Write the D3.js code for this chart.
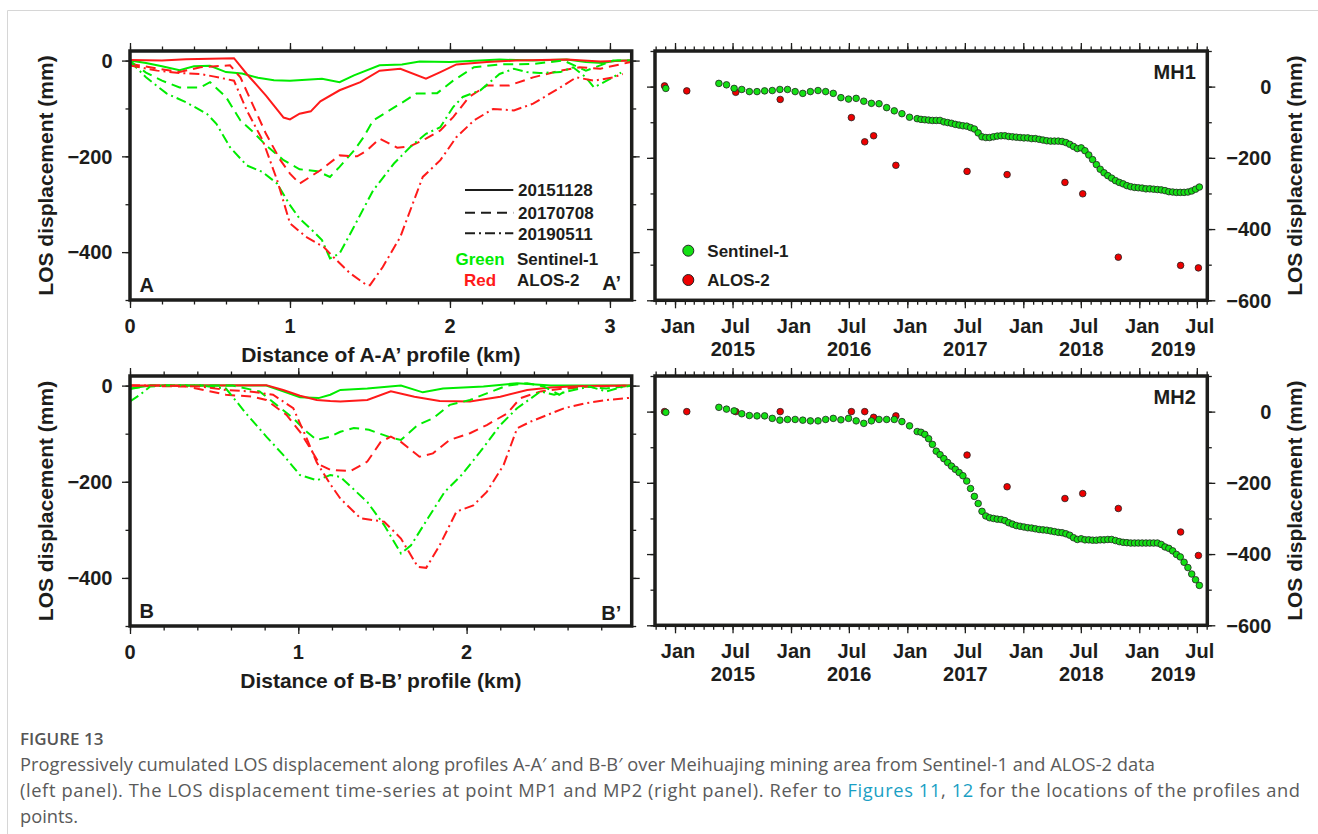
<!DOCTYPE html>
<html>
<head>
<meta charset="utf-8">
<script src="https://cdn.jsdelivr.net/npm/d3@7"></script>
<style>
  body { margin: 0; background: #fff; }
  svg { display: block; }
</style>
</head>
<body>
<svg id="fig" width="1318" height="834"></svg>
<script>
// ---------- profile A-A' : [distance km, LOS mm]
var aS1_20151128 = [[0,0],[0.1,-5],[0.2,-12],[0.31,-20],[0.4,-12],[0.5,-11],[0.6,-24],[0.7,-27],[0.8,-36],[0.9,-41],[1.0,-42],[1.1,-40],[1.2,-38],[1.31,-45],[1.4,-31],[1.56,-10],[1.7,-8],[1.81,-2],[2.0,-3],[2.31,2],[2.52,0],[2.73,2],[2.85,-3],[2.95,-5],[3.05,0],[3.13,0]];
var aAL_20151128 = [[0,1],[0.2,0],[0.35,3],[0.5,4],[0.65,5],[0.73,-28],[0.85,-73],[0.96,-119],[1.0,-123],[1.06,-111],[1.13,-106],[1.19,-85],[1.31,-62],[1.44,-45],[1.56,-21],[1.69,-17],[1.85,-38],[1.94,-24],[2.04,-8],[2.23,-3],[2.41,0],[2.73,2],[2.94,-2],[3.13,0]];
var aS1_20170708 = [[0,-1],[0.1,-25],[0.2,-42],[0.31,-56],[0.44,-56],[0.5,-45],[0.6,-76],[0.69,-125],[0.77,-149],[0.85,-177],[0.96,-208],[1.06,-227],[1.17,-231],[1.25,-243],[1.31,-222],[1.4,-188],[1.46,-160],[1.52,-125],[1.69,-90],[1.79,-69],[1.92,-68],[2.02,-42],[2.15,-14],[2.31,-8],[2.52,-7],[2.71,0],[2.85,-21],[2.94,-10],[3.02,0],[3.13,0]];
var aAL_20170708 = [[0,-7],[0.125,-14],[0.31,-24],[0.44,-14],[0.625,-10],[0.69,-35],[0.77,-94],[0.85,-153],[0.94,-208],[1.0,-236],[1.06,-257],[1.125,-243],[1.19,-229],[1.31,-198],[1.42,-200],[1.48,-188],[1.56,-163],[1.67,-182],[1.75,-179],[1.85,-163],[1.94,-146],[2.02,-118],[2.12,-76],[2.23,-52],[2.37,-52],[2.52,-35],[2.69,-21],[2.81,-14],[2.94,-17],[3.13,-3]];
var aS1_20190511 = [[0,-1],[0.1,-35],[0.23,-69],[0.35,-87],[0.48,-111],[0.54,-132],[0.625,-181],[0.73,-219],[0.83,-233],[0.92,-257],[1.0,-302],[1.06,-330],[1.15,-358],[1.2,-375],[1.25,-413],[1.31,-403],[1.4,-347],[1.52,-271],[1.65,-215],[1.75,-181],[1.85,-153],[1.94,-139],[2.02,-97],[2.08,-76],[2.19,-62],[2.31,-28],[2.4,-17],[2.48,-24],[2.56,-26],[2.69,-24],[2.77,-14],[2.85,-35],[2.9,-56],[2.98,-42],[3.07,-25]];
var aAL_20190511 = [[0,-10],[0.17,-21],[0.31,-26],[0.44,-28],[0.52,-33],[0.65,-42],[0.73,-104],[0.83,-167],[0.92,-250],[1.0,-340],[1.1,-368],[1.21,-389],[1.27,-410],[1.375,-444],[1.48,-469],[1.5,-469],[1.58,-431],[1.69,-368],[1.83,-243],[1.94,-208],[2.04,-160],[2.15,-125],[2.27,-101],[2.4,-104],[2.52,-90],[2.69,-56],[2.79,-35],[2.9,-42],[3.02,-35],[3.08,-28]];

// ---------- profile B-B'
var bS1_20151128 = [[0,-6],[0.12,0],[0.4,0],[0.81,0],[0.91,-12],[1.01,-24],[1.12,-26],[1.19,-19],[1.25,-9],[1.41,-6],[1.61,0],[1.74,-14],[1.86,-6],[2.1,-2],[2.3,5],[2.5,0],[2.69,0],[2.98,0]];
var bAL_20151128 = [[0,0],[0.4,0],[0.81,1],[0.91,-9],[1.01,-21],[1.11,-30],[1.19,-32],[1.25,-33],[1.41,-30],[1.55,-12],[1.69,-23],[1.84,-32],[2.02,-33],[2.2,-23],[2.36,-9],[2.5,-4],[2.69,-1],[2.98,0]];
var bS1_20170708 = [[0,-7],[0.12,0],[0.61,0],[0.77,-12],[0.87,-40],[0.97,-68],[1.05,-96],[1.11,-113],[1.19,-106],[1.25,-96],[1.33,-88],[1.42,-92],[1.55,-108],[1.61,-113],[1.71,-82],[1.8,-68],[1.9,-40],[2.02,-30],[2.12,-16],[2.24,0],[2.36,5],[2.46,-2],[2.55,-19],[2.61,-6],[2.71,-2],[2.83,-6],[2.98,0]];
var bAL_20170708 = [[0,0],[0.34,-2],[0.57,-19],[0.73,-23],[0.81,-30],[0.93,-61],[1.01,-96],[1.07,-130],[1.13,-165],[1.19,-175],[1.31,-178],[1.41,-158],[1.49,-117],[1.55,-106],[1.61,-117],[1.72,-148],[1.8,-141],[1.9,-113],[2.02,-99],[2.12,-82],[2.24,-58],[2.32,-26],[2.44,-12],[2.58,-6],[2.71,-2],[2.98,0]];
var bS1_20190511 = [[0,-33],[0.06,-19],[0.12,-2],[0.22,0],[0.42,0],[0.57,-6],[0.69,-58],[0.81,-106],[0.91,-144],[1.01,-186],[1.11,-197],[1.19,-186],[1.25,-190],[1.41,-242],[1.51,-290],[1.61,-349],[1.67,-332],[1.77,-276],[1.87,-221],[1.97,-186],[2.08,-138],[2.2,-82],[2.3,-47],[2.44,-12],[2.52,-19],[2.6,-12],[2.73,-2],[2.83,-12],[2.91,-4],[2.98,0]];
var bAL_20190511 = [[0,0],[0.22,0],[0.42,-2],[0.57,-9],[0.71,-12],[0.85,-19],[0.97,-47],[1.05,-110],[1.11,-160],[1.19,-205],[1.25,-235],[1.37,-276],[1.51,-283],[1.61,-318],[1.71,-377],[1.76,-379],[1.84,-332],[1.94,-262],[2.04,-249],[2.12,-221],[2.22,-165],[2.3,-89],[2.38,-75],[2.48,-61],[2.58,-47],[2.7,-37],[2.83,-30],[2.98,-25]];

// ---------- time series at MH1 / MH2
var s1Dates = ["2014-12-03",
  "2015-05-19","2015-06-12","2015-07-06","2015-07-30","2015-08-23","2015-09-16","2015-10-10","2015-11-03","2015-11-27","2015-12-21",
  "2016-01-14","2016-02-07","2016-03-02","2016-03-26","2016-04-19","2016-05-13","2016-06-06","2016-06-30","2016-07-24","2016-08-17","2016-09-10","2016-10-04","2016-10-28","2016-11-21","2016-12-15",
  "2017-01-08","2017-02-01",
  "2017-02-13","2017-02-25","2017-03-09","2017-03-21","2017-04-02","2017-04-14","2017-04-26","2017-05-08","2017-05-20","2017-06-01","2017-06-13","2017-06-25","2017-07-07","2017-07-19","2017-07-31","2017-08-12","2017-08-24","2017-09-05","2017-09-17","2017-09-29","2017-10-11","2017-10-23","2017-11-04","2017-11-16","2017-11-28","2017-12-10","2017-12-22",
  "2018-01-03","2018-01-15","2018-01-27","2018-02-08","2018-02-20","2018-03-04","2018-03-16","2018-03-28","2018-04-09","2018-04-21","2018-05-03","2018-05-15","2018-05-27","2018-06-08","2018-06-20","2018-07-02","2018-07-14","2018-07-26","2018-08-07","2018-08-19","2018-08-31","2018-09-12","2018-09-24","2018-10-06","2018-10-18","2018-10-30","2018-11-11","2018-11-23","2018-12-05","2018-12-17","2018-12-29",
  "2019-01-10","2019-01-22","2019-02-03","2019-02-15","2019-02-27","2019-03-11","2019-03-23","2019-04-04","2019-04-16","2019-04-28","2019-05-10","2019-05-22","2019-06-03","2019-06-15","2019-06-27","2019-07-09"];
var mh1S1 = [-5,
  9,5,-5,-8,-14,-14,-12,-11,-8,-8,
  -14,-19,-14,-11,-14,-19,-31,-35,-33,-41,-47,-48,-59,-68,-76,
  -86,-90,
  -92,-93,-94,-95,-95,-95,-99,-101,-103,-106,-108,-110,-111,-115,-119,-130,-141,-143,-143,-141,-139,-138,-138,-140,-141,-142,-143,
  -144,-144,-146,-146,-148,-150,-152,-153,-153,-153,-154,-157,-162,-168,-174,-172,-180,-192,-205,-219,-232,-242,-250,-257,-264,-269,-273,-278,-281,-283,-284,
  -285,-287,-287,-288,-289,-290,-292,-295,-296,-297,-297,-297,-296,-293,-288,-282];
var mh2S1 = [-2,
  12,7,2,-6,-11,-12,-12,-19,-24,-22,
  -22,-24,-26,-26,-22,-19,-23,-19,-26,-33,-26,-22,-22,-22,-28,
  -40,-56,
  -58,-64,-76,-92,-111,-121,-132,-143,-153,-162,-171,-180,-195,-216,-238,-258,-280,-293,-298,-300,-302,-303,-306,-312,-316,-320,-322,
  -324,-326,-327,-329,-331,-332,-333,-335,-337,-339,-340,-343,-347,-354,-359,-357,-360,-360,-361,-361,-360,-360,-359,-359,-362,-365,-367,-368,-369,-369,-369,
  -369,-369,-369,-369,-369,-373,-380,-384,-391,-401,-408,-423,-438,-456,-472,-488];
var alosDates = ["2014-11-29","2015-02-07","2015-07-11","2015-11-28","2016-07-09","2016-08-20","2016-09-17","2016-11-26",
  "2017-07-08","2017-11-11","2018-05-12","2018-07-07","2018-10-27","2019-05-11","2019-07-06"];
var mh1Alos = [2,-12,-16,-36,-87,-155,-138,-221,-238,-247,-269,-301,-479,-502,-509];
var mh2Alos = [0,0,0,0,0,0,-16,-12,-122,-211,-244,-230,-272,-338,-404];

var legendDates = ["20151128","20170708","20190511"];

var FONT = "'Liberation Sans', Arial, Helvetica, sans-serif";
var INK = "#1d1d1b";
var GREEN = "#00ec00", RED = "#ff1a1a";
var dashOf = {"20151128": null, "20170708": "10,6", "20190511": "10,4,2,4"};
var parseDate = d3.utcParse("%Y-%m-%d");
var minus = function(v) { return v < 0 ? "\u2212" + (-v) : String(v); };

var svg = d3.select("#fig").style("font-family", FONT);

// page border
svg.append("path").attr("d", "M7.5,834V10.5H1318").attr("fill", "none").attr("stroke", "#d6d6d6");

function ticks(g, scale, orient, at, values, size) {
  var ax = (orient == "bottom" ? d3.axisBottom : orient == "top" ? d3.axisTop : orient == "left" ? d3.axisLeft : d3.axisRight)(scale)
    .tickValues(values).tickSize(size).tickFormat("");
  var tr = (orient == "bottom" || orient == "top") ? "translate(0," + at + ")" : "translate(" + at + ",0)";
  var a = g.append("g").attr("transform", tr).call(ax);
  a.select(".domain").remove();
  a.selectAll("line").attr("stroke", INK).attr("stroke-width", 1.3);
}

function framed(g, x, y, box, xMaj, xMin, yMaj, yMin, id) {
  ["bottom","top"].forEach(function(o) {
    var at = o == "bottom" ? box.b : box.t;
    ticks(g, x, o, at, xMin, 4.5);
    ticks(g, x, o, at, xMaj, 8);
  });
  ["left","right"].forEach(function(o) {
    var at = o == "left" ? box.l : box.r;
    ticks(g, y, o, at, yMin, 4.5);
    ticks(g, y, o, at, yMaj, 8);
  });
  svg.append("clipPath").attr("id", id).append("rect")
    .attr("x", box.l).attr("y", box.t).attr("width", box.r - box.l).attr("height", box.b - box.t);
  var plot = g.append("g").attr("clip-path", "url(#" + id + ")");
  g.append("rect").attr("x", box.l).attr("y", box.t).attr("width", box.r - box.l).attr("height", box.b - box.t)
    .attr("fill", "none").attr("stroke", INK).attr("stroke-width", 3.5);
  return plot;
}

// ---------- profile panels
function profilePanel(box, xMax, series, name, ends) {
  var g = svg.append("g");
  var x = d3.scaleLinear().domain([0, xMax]).range([box.l, box.r]);
  var y = d3.scaleLinear().domain([-500, 20]).range([box.b, box.t]);
  var plot = framed(g, x, y, box, d3.range(0, xMax, 1), d3.range(0, xMax, 0.2),
    [0, -200, -400], [0, -100, -200, -300, -400, -500], "clip" + name);
  var line = d3.line().x(function(d) { return x(d[0]); }).y(function(d) { return y(d[1]); });
  series.forEach(function(s) {
    plot.append("path").datum(s.data).attr("d", line)
      .attr("fill", "none").attr("stroke", s.sat == "s1" ? GREEN : RED)
      .attr("stroke-width", 2).attr("stroke-dasharray", dashOf[s.date]);
  });
  g.selectAll(".xl").data(d3.range(0, xMax, 1)).enter().append("text")
    .attr("x", function(d) { return x(d); }).attr("y", box.b + 33)
    .attr("text-anchor", "middle").attr("font-size", 20).attr("font-weight", "bold").attr("fill", INK)
    .text(function(d) { return d; });
  g.selectAll(".yl").data([0, -200, -400]).enter().append("text")
    .attr("x", box.l - 17.5).attr("y", function(d) { return y(d) + 7.2; })
    .attr("text-anchor", "end").attr("font-size", 20).attr("font-weight", "bold").attr("fill", INK)
    .text(minus);
  g.append("text").attr("x", (box.l + box.r) / 2).attr("y", box.b + 62)
    .attr("text-anchor", "middle").attr("font-size", 21).attr("font-weight", "bold").attr("fill", INK)
    .text("Distance of " + name + "-" + name + "\u2019 profile (km)");
  g.append("text").attr("transform", "translate(53," + (box.t + box.b) / 2 + ") rotate(-90)")
    .attr("text-anchor", "middle").attr("font-size", 21).attr("font-weight", "bold").attr("fill", INK)
    .text("LOS displacement (mm)");
  g.append("text").attr("x", box.l + 9.5).attr("y", box.b - 8)
    .attr("font-size", 20).attr("font-weight", "bold").attr("fill", INK).text(name);
  g.append("text").attr("x", box.r - 10.5).attr("y", box.b - ends)
    .attr("text-anchor", "end").attr("font-size", 20).attr("font-weight", "bold").attr("fill", INK).text(name + "\u2019");
  return g;
}

var gA = profilePanel({l: 130, r: 631.7, t: 51, b: 300}, 3.136, [
  {data: aS1_20151128, sat: "s1", date: "20151128"}, {data: aAL_20151128, sat: "al", date: "20151128"},
  {data: aS1_20170708, sat: "s1", date: "20170708"}, {data: aAL_20170708, sat: "al", date: "20170708"},
  {data: aS1_20190511, sat: "s1", date: "20190511"}, {data: aAL_20190511, sat: "al", date: "20190511"}], "A", 10);
profilePanel({l: 130, r: 631.7, t: 376, b: 626}, 2.981, [
  {data: bS1_20151128, sat: "s1", date: "20151128"}, {data: bAL_20151128, sat: "al", date: "20151128"},
  {data: bS1_20170708, sat: "s1", date: "20170708"}, {data: bAL_20170708, sat: "al", date: "20170708"},
  {data: bS1_20190511, sat: "s1", date: "20190511"}, {data: bAL_20190511, sat: "al", date: "20190511"}], "B", 6);

// legend of the profile plots
var lgY = [190, 212.7, 233.3];
legendDates.forEach(function(d, i) {
  gA.append("line").attr("x1", 465).attr("x2", 513.3).attr("y1", lgY[i]).attr("y2", lgY[i])
    .attr("stroke", INK).attr("stroke-width", 2).attr("stroke-dasharray", dashOf[d]);
  gA.append("text").attr("x", 518).attr("y", lgY[i] + 6.2)
    .attr("font-size", 17).attr("font-weight", "bold").attr("fill", INK).text(d);
});
[["Green", GREEN, "Sentinel-1", 265], ["Red", RED, "ALOS-2", 286]].forEach(function(r) {
  gA.append("text").attr("x", 480).attr("y", r[3]).attr("text-anchor", "middle")
    .attr("font-size", 17).attr("font-weight", "bold").attr("fill", r[1]).text(r[0]);
  gA.append("text").attr("x", 517).attr("y", r[3])
    .attr("font-size", 17).attr("font-weight", "bold").attr("fill", INK).text(r[2]);
});

// ---------- time-series panels
function timePanel(box, s1Vals, alosVals, name) {
  var g = svg.append("g");
  var x = d3.scaleUtc().domain([parseDate("2014-10-30"), parseDate("2019-08-03")]).range([box.l, box.r]);
  var y = d3.scaleLinear().domain([-600, 100]).range([box.b, box.t]);
  var months = d3.utcMonth.range(x.domain()[0], x.domain()[1]);
  var halfYears = months.filter(function(m) { return m.getUTCMonth() % 6 == 0; });
  var plot = framed(g, x, y, box, halfYears, months, [0, -200, -400, -600],
    [100, 0, -100, -200, -300, -400, -500, -600], "clip" + name);
  plot.selectAll(".al").data(alosDates).enter().append("circle")
    .attr("cx", function(d) { return x(parseDate(d)); })
    .attr("cy", function(d, i) { return y(alosVals[i]); })
    .attr("r", 3.3).attr("fill", "#ee0000").attr("stroke", "#222").attr("stroke-width", 0.8);
  plot.selectAll(".s1").data(s1Dates).enter().append("circle")
    .attr("cx", function(d) { return x(parseDate(d)); })
    .attr("cy", function(d, i) { return y(s1Vals[i]); })
    .attr("r", 3.3).attr("fill", "#14e014").attr("stroke", "#222").attr("stroke-width", 0.8);
  g.selectAll(".ml").data(halfYears).enter().append("text")
    .attr("x", function(d) { return x(d) + 3; }).attr("y", box.b + 32.7)
    .attr("text-anchor", "middle").attr("font-size", 20).attr("font-weight", "bold").attr("fill", INK)
    .text(d3.utcFormat("%b"));
  var years = d3.utcYear.range(parseDate("2015-01-01"), x.domain()[1]);
  g.selectAll(".yr").data(years).enter().append("text")
    .attr("x", function(d) { return (x(d) + Math.min(box.r, x(d3.utcYear.offset(d, 1)))) / 2; })
    .attr("y", box.b + 56)
    .attr("text-anchor", "middle").attr("font-size", 20).attr("font-weight", "bold").attr("fill", INK)
    .text(d3.utcFormat("%Y"));
  g.selectAll(".yl").data([0, -200, -400, -600]).enter().append("text")
    .attr("x", box.r + 64).attr("y", function(d) { return y(d) + 7.2; })
    .attr("text-anchor", "end").attr("font-size", 20).attr("font-weight", "bold").attr("fill", INK)
    .text(minus);
  g.append("text").attr("transform", "translate(1301.5," + (box.t + box.b) / 2 + ") rotate(-90)")
    .attr("text-anchor", "middle").attr("font-size", 21).attr("font-weight", "bold").attr("fill", INK)
    .text("LOS displacement (mm)");
  g.append("text").attr("x", box.r - 11.5).attr("y", box.t + 27.5).attr("text-anchor", "end")
    .attr("font-size", 20).attr("font-weight", "bold").attr("fill", INK).text(name);
  return g;
}

var gM1 = timePanel({l: 655, r: 1207.3, t: 51, b: 300.3}, mh1S1, mh1Alos, "MH1");
timePanel({l: 655, r: 1207.3, t: 376, b: 625.3}, mh2S1, mh2Alos, "MH2");

[["Sentinel-1", "#14e014", 250.7], ["ALOS-2", "#ee0000", 280]].forEach(function(r) {
  gM1.append("circle").attr("cx", 688.3).attr("cy", r[2]).attr("r", 5.5)
    .attr("fill", r[1]).attr("stroke", "#222").attr("stroke-width", 1);
  gM1.append("text").attr("x", 707.3).attr("y", r[2] + 6.2)
    .attr("font-size", 17).attr("font-weight", "bold").attr("fill", INK).text(r[0]);
});

// ---------- caption
var cap = svg.append("g").style("font-family", "'Open Sans', 'Noto Sans', sans-serif").attr("fill", "#5a5a5a");
cap.append("text").attr("x", 20).attr("y", 745).attr("font-size", 17).attr("font-weight", 600).attr("fill", "#555")
  .text("FIGURE 13");
cap.append("text").attr("x", 20).attr("y", 771).attr("font-size", 18.3)
  .attr("textLength", 1135).attr("lengthAdjust", "spacing")
  .text("Progressively cumulated LOS displacement along profiles A-A\u2032 and B-B\u2032 over Meihuajing mining area from Sentinel-1 and ALOS-2 data");
var l3 = cap.append("text").attr("x", 20).attr("y", 797).attr("font-size", 18.3)
  .attr("textLength", 1280).attr("lengthAdjust", "spacing");
l3.append("tspan").text("(left panel). The LOS displacement time-series at point MP1 and MP2 (right panel). Refer to ");
l3.append("tspan").attr("fill", "#1a9fc4").text("Figures 11");
l3.append("tspan").text(", ");
l3.append("tspan").attr("fill", "#1a9fc4").text("12");
l3.append("tspan").text(" for the locations of the profiles and");
cap.append("text").attr("x", 20).attr("y", 823).attr("font-size", 18.3).text("points.");
</script>
</body>
</html>
